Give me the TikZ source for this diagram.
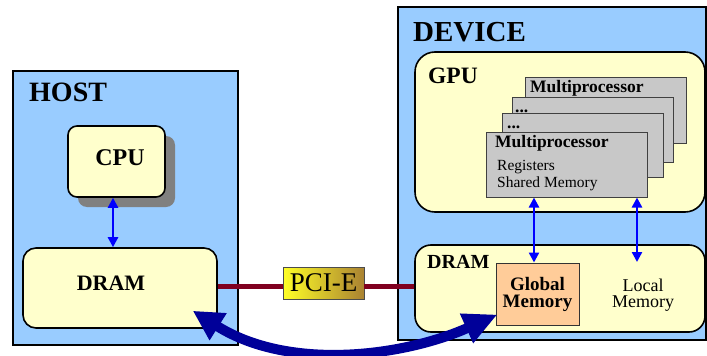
\documentclass[tikz,border=0pt]{standalone}
\usepackage{fontspec}
\setmainfont{Liberation Serif}
\usetikzlibrary{arrows.meta,calc,shadows}
\definecolor{hostblue}{HTML}{99CCFF}
\definecolor{paleyellow}{HTML}{FFFFCC}
\definecolor{mpgray}{HTML}{C8C8C8}
\definecolor{peach}{HTML}{FFCC99}
\definecolor{pcired}{HTML}{800020}
\definecolor{navyarrow}{HTML}{000099}
\definecolor{shadowgray}{HTML}{808080}
\tikzset{
  outerbox/.style={draw=black, line width=2pt, fill=hostblue, inner sep=0pt},
  roundbox/.style={draw=black, line width=1.6pt, fill=paleyellow, rounded corners=#1, inner sep=0pt},
  mpbox/.style={draw=black!75, line width=1pt, fill=mpgray, inner sep=0pt, minimum width=161pt},
  txt/.style={inner sep=0pt, text=black},
  blarrow/.style={draw=blue, line width=2.4pt, {Triangle[length=10pt,width=10pt]}-{Triangle[length=10pt,width=10pt]}},
}
\begin{document}
\begin{tikzpicture}[x=1pt,y=-1pt]
\useasboundingbox (0,0) rectangle (707,356);
\fill[white] (0,0) rectangle (707,356);
% HOST
\node[outerbox, minimum width=225pt, minimum height=274pt] (host) at (125.5,208) {};
\node[txt, anchor=west, font=\bfseries\fontsize{28}{30}\selectfont] (hostlbl) at (29,92) {HOST};
\fill[shadowgray, rounded corners=9pt] (78,136) rectangle (175,207);
\node[roundbox=9pt, minimum width=97pt, minimum height=71pt] (cpu) at (116.5,161.5) {};
\node[txt, font=\bfseries\fontsize{24}{26}\selectfont] (cpulbl) at (120,158) {CPU};
\node[roundbox=13pt, minimum width=194pt, minimum height=80pt] (hdram) at (120,288) {};
\node[txt, font=\bfseries\fontsize{22}{24}\selectfont] (hdramlbl) at (111,283) {DRAM};
\draw[blarrow] ($(cpu.south)+(-3.5,0)$) -- ($(cpu.south |- hdram.north)+(-3.5,0)$);
% DEVICE
\node[outerbox, minimum width=308pt, minimum height=333pt] (device) at (552,173.5) {};
\node[txt, anchor=west, font=\bfseries\fontsize{29}{31}\selectfont] (devlbl) at (413,32) {DEVICE};
\node[roundbox=20pt, minimum width=290pt, minimum height=160pt] (gpu) at (560,132) {};
\node[txt, anchor=west, font=\bfseries\fontsize{23.5}{25}\selectfont] (gpulbl) at (428,75.5) {GPU};
% multiprocessors
\node[mpbox, minimum height=66pt] (mp4) at (605.5,110) {};
\node[mpbox, minimum height=65pt] (mp3) at (592.5,129.5) {};
\node[mpbox, minimum height=64pt] (mp2) at (582.5,145) {};
\node[mpbox, minimum height=65pt] (mp1) at (566.5,164.5) {};
\node[txt, anchor=base west, font=\bfseries\fontsize{17.5}{19}\selectfont] (mp4lbl) at (530,92) {Multiprocessor};
\node[txt, anchor=base west, font=\bfseries\fontsize{17.5}{19}\selectfont] (mp3lbl) at (515,112) {...};
\node[txt, anchor=base west, font=\bfseries\fontsize{17.5}{19}\selectfont] (mp2lbl) at (507,128) {...};
\node[txt, anchor=base west, font=\bfseries\fontsize{17.5}{19}\selectfont] (mp1lbl) at (495,147) {Multiprocessor};
\node[txt, anchor=base west, font=\fontsize{15.5}{17}\selectfont] (reglbl) at (497,170) {Registers};
\node[txt, anchor=base west, font=\fontsize{15.5}{17}\selectfont] (shmlbl) at (497,187) {Shared Memory};
% device DRAM
\node[roundbox=16pt, minimum width=290pt, minimum height=87pt] (ddram) at (560,288.5) {};
\node[txt, anchor=base west, font=\bfseries\fontsize{20}{22}\selectfont] (ddramlbl) at (427,268) {DRAM};
\node[draw=black!80, line width=1pt, fill=peach, inner sep=0pt, minimum width=83pt, minimum height=62pt] (global) at (537.5,294) {};
\node[txt, align=center, font=\bfseries\fontsize{19}{17}\selectfont] (globallbl) at (537.5,294) {Global\\Memory};
\node[txt, align=center, font=\fontsize{18}{16}\selectfont] (locallbl) at (643,295) {Local\\Memory};
\coordinate (localtop) at (637,262);
\draw[blarrow] ($(global.north |- mp1.south)+(-3.5,0)$) -- ($(global.north)+(-3.5,0)$);
\draw[blarrow] (localtop |- mp1.south) -- (localtop);
% PCI-E
\node[draw=black!70, line width=0.8pt, inner sep=0pt, minimum width=81pt, minimum height=32pt,
  left color=yellow!85!white, middle color=yellow!90!orange, right color={rgb,255:red,170;green,130;blue,50},
  font=\fontsize{27}{29}\selectfont] (pcie) at (323.5,283) {PCI-E};
\draw[pcired, line width=5pt] (hdram.east |- 0,286) -- (pcie.west |- 0,286);
\draw[pcired, line width=5pt] (pcie.east |- 0,286) -- (ddram.west |- 0,286);
% big transfer arrow
\draw[navyarrow, line width=10pt, {Triangle[length=30pt,width=30pt]}-{Triangle[length=34pt,width=30pt]}]
  ($(hdram.south east)+(-25,-18)$) .. controls (290,372) and (405,356) .. ($(global.south west)+(2,-11)$);
\end{tikzpicture}
\end{document}
